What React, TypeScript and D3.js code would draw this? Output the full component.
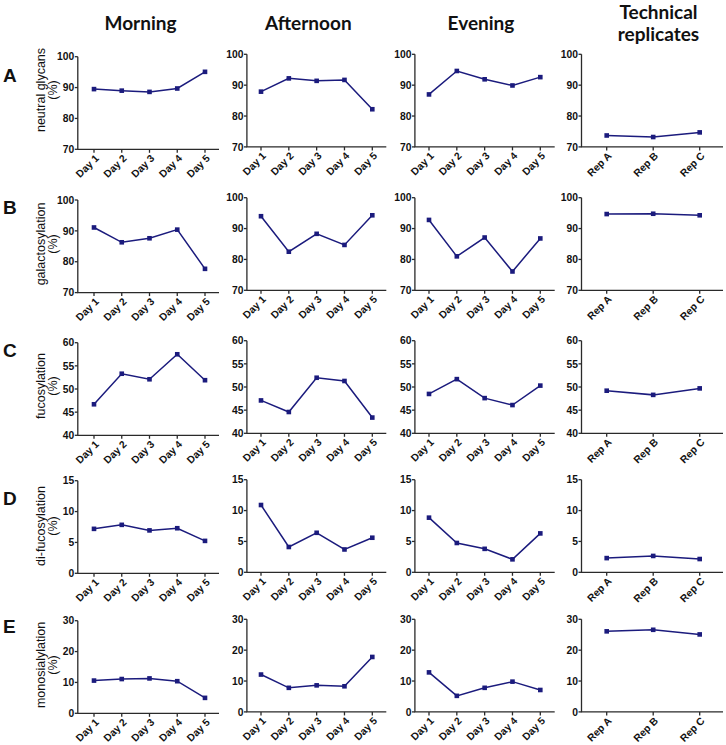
import React from "react";
import * as d3 from "d3";

const days = ["Day 1", "Day 2", "Day 3", "Day 4", "Day 5"];
const reps = ["Rep A", "Rep B", "Rep C"];
const columnTitles = ["Morning", "Afternoon", "Evening", "Technical replicates"];
const rowLetters = ["A", "B", "C", "D", "E"];
const rowLabels = ["neutral glycans", "galactosylation", "fucosylation", "di-fucosylation", "monosialylation"];
const rowDomains: [number, number][] = [[70, 100], [70, 100], [40, 60], [0, 15], [0, 30]];
const rowTicks = [[70, 80, 90, 100], [70, 80, 90, 100], [40, 45, 50, 55, 60], [0, 5, 10, 15], [0, 10, 20, 30]];

// values[row][col]
const neutralMorning = [89.5, 89.0, 88.6, 89.7, 95.1];
const neutralAfternoon = [87.9, 92.2, 91.4, 91.7, 82.2];
const neutralEvening = [87.0, 94.6, 91.9, 89.9, 92.6];
const neutralReps = [73.7, 73.2, 74.7];

const galMorning = [91.1, 86.3, 87.6, 90.4, 77.7];
const galAfternoon = [94.0, 82.5, 88.3, 84.7, 94.3];
const galEvening = [92.8, 81.0, 87.1, 76.1, 86.8];
const galReps = [94.7, 94.8, 94.3];

const fucMorning = [46.7, 53.3, 52.1, 57.5, 51.9];
const fucAfternoon = [47.1, 44.6, 52.0, 51.3, 43.4];
const fucEvening = [48.5, 51.7, 47.6, 46.1, 50.3];
const fucReps = [49.2, 48.3, 49.7];

const difucMorning = [7.2, 7.85, 6.95, 7.3, 5.25];
const difucAfternoon = [10.9, 4.1, 6.4, 3.7, 5.6];
const difucEvening = [8.85, 4.75, 3.8, 2.1, 6.3];
const difucReps = [2.3, 2.65, 2.15];

const monoMorning = [10.6, 11.1, 11.3, 10.4, 5.0];
const monoAfternoon = [12.1, 7.8, 8.6, 8.3, 17.8];
const monoEvening = [12.8, 5.2, 7.8, 9.8, 7.1];
const monoReps = [26.1, 26.6, 25.1];

const values = [
  [neutralMorning, neutralAfternoon, neutralEvening, neutralReps],
  [galMorning, galAfternoon, galEvening, galReps],
  [fucMorning, fucAfternoon, fucEvening, fucReps],
  [difucMorning, difucAfternoon, difucEvening, difucReps],
  [monoMorning, monoAfternoon, monoEvening, monoReps],
];

// layout
const colX0 = [77.8, 246.9, 414.9, 581.5];
const colX1 = [219, 386.3, 554.7, 723];
const insetL = [16.2, 14.1, 14.1, 25.2];
const insetR = [14, 14, 14.4, 23.3];
const rowTop = [54.3, 197.7, 340.7, 479.7, 619.3];
const morningShift = [2.4, 2.3, 2, 1, 1.4];
const plotH = 92.6;
const titleX = [140.5, 308.3, 481, 658.5];
const letterBaseline = [81.7, 214, 356.7, 505, 633.3];
const labelCenterY = [90, 244, 386, 526, 665];

const LINE = "#1b1b7d";
const AXIS = "#2a2a2a";
const ARIAL = "Arial, 'Liberation Sans', sans-serif";
const TITLE_FONT = "Lato, 'Open Sans', sans-serif";

function Panel({ r, c }: { r: number; c: number }) {
  const cats = c === 3 ? reps : days;
  const vals = values[r][c];
  const top = rowTop[r] + (c === 0 ? morningShift[r] : 0);
  const y = d3.scaleLinear().domain(rowDomains[r]).range([top + plotH, top]);
  const x = d3.scalePoint<string>().domain(cats).range([colX0[c] + insetL[c], colX1[c] - insetR[c]]);
  const line = d3
    .line<number>()
    .x((_, i) => x(cats[i]) as number)
    .y((v) => y(v));
  const x0 = colX0[c];
  const yb = top + plotH;
  return (
    <g>
      <path d={`M${x0},${top}V${yb}H${colX1[c]}`} fill="none" stroke={AXIS} strokeWidth={1.3} />
      {rowTicks[r].map((t) => (
        <g key={t}>
          <line x1={x0 - 3} x2={x0} y1={y(t)} y2={y(t)} stroke={AXIS} strokeWidth={1.3} />
          <text x={x0 - 3.5} y={y(t)} dy="0.36em" textAnchor="end" fontFamily={ARIAL} fontWeight="bold" fontSize={10.3} fill="#111">
            {t}
          </text>
        </g>
      ))}
      {cats.map((cat) => {
        const cx = x(cat) as number;
        return (
          <g key={cat}>
            <line x1={cx} x2={cx} y1={yb} y2={yb + 3.5} stroke={AXIS} strokeWidth={1.3} />
            <text
              transform={`translate(${cx + 3},${yb + 7}) rotate(-45)`}
              textAnchor="end"
              dy="0.35em"
              fontFamily={ARIAL}
              fontWeight="bold"
              fontSize={10.3}
              fill="#111"
            >
              {cat}
            </text>
          </g>
        );
      })}
      <path d={line(vals) || ""} fill="none" stroke={LINE} strokeWidth={1.5} />
      {vals.map((v, i) => (
        <rect key={i} x={(x(cats[i]) as number) - 2.3} y={y(v) - 2.3} width={4.6} height={4.6} fill={LINE} />
      ))}
    </g>
  );
}

export default function App() {
  return (
    <svg width={726} height={745} style={{ position: "absolute", left: 0, top: 0, background: "#fff" }}>
      <rect width={726} height={745} fill="#fff" />
      {columnTitles.map((t, c) =>
        c === 3 ? (
          <text key={t} x={titleX[c]} textAnchor="middle" fontFamily={TITLE_FONT} fontWeight="bold" fontSize={19} fill="#111">
            <tspan x={titleX[c]} y={18.5}>Technical</tspan>
            <tspan x={titleX[c]} y={41}>replicates</tspan>
          </text>
        ) : (
          <text key={t} x={titleX[c]} y={29.5} textAnchor="middle" fontFamily={TITLE_FONT} fontWeight="bold" fontSize={19} fill="#111">
            {t}
          </text>
        )
      )}
      {rowLetters.map((l, r) => (
        <text key={l} x={3} y={letterBaseline[r]} fontFamily={ARIAL} fontWeight="bold" fontSize={19} fill="#111">
          {l}
        </text>
      ))}
      {rowLabels.map((lab, r) => (
        <g key={lab}>
          <text transform={`translate(45,${labelCenterY[r]}) rotate(-90)`} textAnchor="middle" fontFamily={ARIAL} fontSize={12.5} fill="#111">
            {lab}
          </text>
          <text transform={`translate(57,${labelCenterY[r]}) rotate(-90)`} textAnchor="middle" fontFamily={ARIAL} fontSize={12.5} fill="#111">
            (%)
          </text>
        </g>
      ))}
      {values.map((row, r) => row.map((_, c) => <Panel key={`${r}-${c}`} r={r} c={c} />))}
    </svg>
  );
}
